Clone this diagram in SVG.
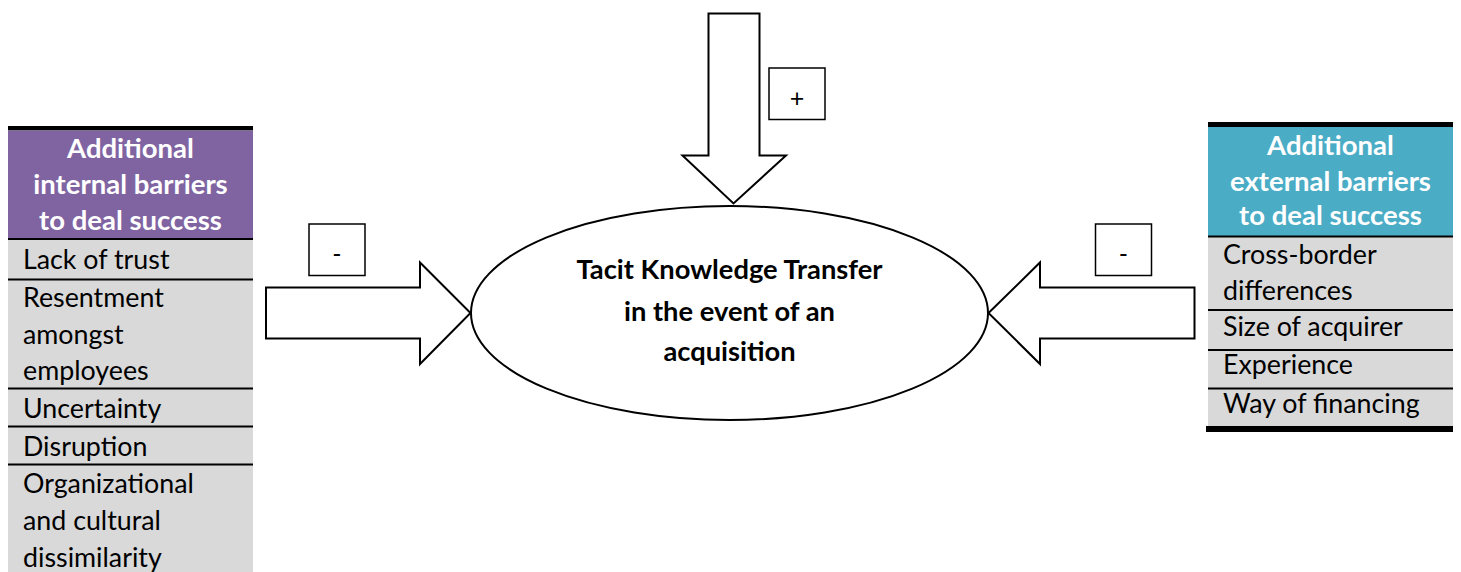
<svg xmlns="http://www.w3.org/2000/svg" width="1461" height="572" viewBox="0 0 1461 572">
  <defs>
    <style>
      .bg { fill: #ffffff; }
      .hdr-int { fill: #8064a2; }
      .hdr-ext { fill: #4bacc6; }
      .cell { fill: #d9d9d9; }
      .rule { stroke: #000000; stroke-width: 2; }
      .bar { fill: #000000; }
      .hdr-text { font-family: Lato, "Liberation Sans", sans-serif; font-weight: bold; font-size: 27.5px; fill: #ffffff; text-anchor: middle; }
      .cell-text { font-family: Lato, "Liberation Sans", sans-serif; font-size: 26.8px; fill: #000000; }
      .shape { fill: #ffffff; stroke: #000000; stroke-width: 2; }
      .core-text { font-family: Lato, "Liberation Sans", sans-serif; font-weight: bold; font-size: 27.3px; fill: #000000; text-anchor: middle; }
      .sign { fill: #ffffff; stroke: #000000; stroke-width: 1.5; }
      .sign-text { font-family: Lato, "Liberation Sans", sans-serif; font-size: 25px; fill: #000000; text-anchor: middle; }
    </style>
  </defs>

  <rect class="bg" x="0" y="0" width="1461" height="572"/>

  <!-- Internal barriers table -->
  <g id="internal-barriers">
    <rect class="bar" x="8" y="126" width="245" height="4.5"/>
    <rect class="hdr-int" x="8" y="130.5" width="245" height="108"/>
    <rect class="cell" x="8" y="238.5" width="245" height="334"/>
    <line class="rule" x1="8" y1="239" x2="253" y2="239"/>
    <line class="rule" x1="8" y1="279.5" x2="253" y2="279.5"/>
    <line class="rule" x1="8" y1="388.5" x2="253" y2="388.5"/>
    <line class="rule" x1="8" y1="426.5" x2="253" y2="426.5"/>
    <line class="rule" x1="8" y1="464.5" x2="253" y2="464.5"/>
    <text class="hdr-text" x="130.5" y="158">Additional</text>
    <text class="hdr-text" x="130.5" y="194">internal barriers</text>
    <text class="hdr-text" x="130.5" y="229.5">to deal success</text>
    <text class="cell-text" x="23" y="269">Lack of trust</text>
    <text class="cell-text" x="23" y="307">Resentment</text>
    <text class="cell-text" x="23" y="344">amongst</text>
    <text class="cell-text" x="23" y="380">employees</text>
    <text class="cell-text" x="23" y="418">Uncertainty</text>
    <text class="cell-text" x="23" y="456">Disruption</text>
    <text class="cell-text" x="23" y="493">Organizational</text>
    <text class="cell-text" x="23" y="530">and cultural</text>
    <text class="cell-text" x="23" y="567">dissimilarity</text>
  </g>

  <!-- External barriers table -->
  <g id="external-barriers">
    <rect class="bar" x="1208" y="122" width="245" height="5"/>
    <rect class="hdr-ext" x="1208" y="127" width="245" height="109"/>
    <rect class="cell" x="1208" y="236" width="245" height="191"/>
    <line class="rule" x1="1208" y1="236.5" x2="1453" y2="236.5"/>
    <line class="rule" x1="1208" y1="310" x2="1453" y2="310"/>
    <line class="rule" x1="1208" y1="350" x2="1453" y2="350"/>
    <line class="rule" x1="1208" y1="388.5" x2="1453" y2="388.5"/>
    <rect class="bar" x="1206" y="426" width="247" height="6"/>
    <text class="hdr-text" x="1330.5" y="155">Additional</text>
    <text class="hdr-text" x="1330.5" y="191">external barriers</text>
    <text class="hdr-text" x="1330.5" y="225">to deal success</text>
    <text class="cell-text" x="1223" y="264">Cross-border</text>
    <text class="cell-text" x="1223" y="300">differences</text>
    <text class="cell-text" x="1223" y="336">Size of acquirer</text>
    <text class="cell-text" x="1223" y="374">Experience</text>
    <text class="cell-text" x="1223" y="413">Way of financing</text>
  </g>

  <!-- Central outcome -->
  <g id="knowledge-transfer">
    <ellipse class="shape" cx="729.5" cy="313" rx="258.5" ry="107"/>
    <text class="core-text" x="729.5" y="279">Tacit Knowledge Transfer</text>
    <text class="core-text" x="729.5" y="320.5">in the event of an</text>
    <text class="core-text" x="729.5" y="360.5">acquisition</text>
  </g>

  <!-- Influence arrows -->
  <g id="connectors">
    <polygon class="shape" points="708.5,13.5 759.5,13.5 759.5,155.5 786,155.5 733.5,203.5 682.5,155.5 708.5,155.5"/>
    <polygon class="shape" points="266,287.5 420,287.5 420,262.5 470.5,313 420,364 420,338.5 266,338.5"/>
    <polygon class="shape" points="1194.5,287.5 1040,287.5 1040,262.5 988.5,313 1040,364 1040,338.5 1194.5,338.5"/>
  </g>

  <!-- Sign labels -->
  <g id="sign-positive">
    <rect class="sign" x="769" y="68" width="56" height="51.5"/>
    <text class="sign-text" x="797" y="107">+</text>
  </g>
  <g id="sign-negative-internal">
    <rect class="sign" x="309" y="224" width="56" height="51.5"/>
    <text class="sign-text" x="337" y="263">-</text>
  </g>
  <g id="sign-negative-external">
    <rect class="sign" x="1095.5" y="224" width="56" height="51.5"/>
    <text class="sign-text" x="1123.5" y="263">-</text>
  </g>
</svg>
